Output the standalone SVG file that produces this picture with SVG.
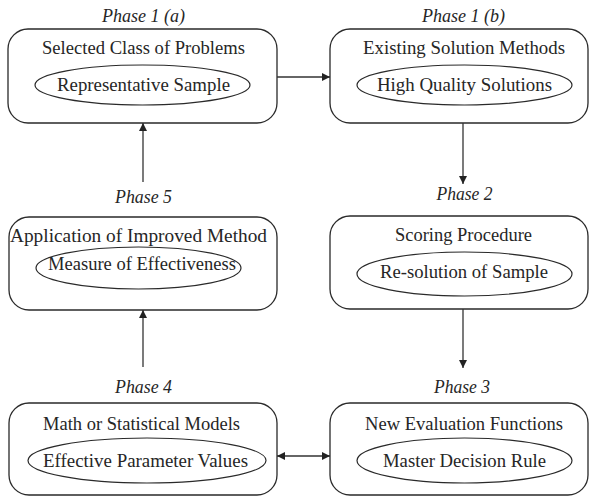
<svg xmlns="http://www.w3.org/2000/svg" width="590" height="496" viewBox="0 0 590 496">
  <style>
    .box { fill: #ffffff; stroke: #2a2a2a; stroke-width: 1.3; }
    .oval { fill: none; stroke: #2a2a2a; stroke-width: 1.2; }
    .t { font-family: 'Liberation Serif', Tinos, 'Times New Roman', 'DejaVu Serif', serif; font-size: 18px; fill: #262626; text-anchor: middle; }
    .ph { font-style: italic; }
    .link { stroke: #333333; stroke-width: 1.3; fill: none; }
  </style>
  <defs>
    <marker id="arrow" viewBox="0 0 10 10" refX="10" refY="5" markerWidth="8" markerHeight="8" markerUnits="userSpaceOnUse" orient="auto-start-reverse">
      <path d="M0,0 L10,5 L0,10 Z" fill="#222222"/>
    </marker>
  </defs>
  <rect width="590" height="496" fill="#ffffff"/>

  <g id="phase1a">
    <text class="t ph" x="143.5" y="22" textLength="83" lengthAdjust="spacingAndGlyphs">Phase 1 (a)</text>
    <rect class="box" x="8" y="29" width="269" height="94" rx="20" ry="20"/>
    <text class="t" x="143.5" y="54" textLength="203" lengthAdjust="spacingAndGlyphs">Selected Class of Problems</text>
    <ellipse class="oval" cx="142.5" cy="85" rx="107.5" ry="20"/>
    <text class="t" x="143.5" y="91" textLength="173" lengthAdjust="spacingAndGlyphs">Representative Sample</text>
  </g>

  <g id="phase1b">
    <text class="t ph" x="463.5" y="22" textLength="83" lengthAdjust="spacingAndGlyphs">Phase 1 (b)</text>
    <rect class="box" x="330" y="29" width="258" height="94" rx="20" ry="20"/>
    <text class="t" x="464" y="54" textLength="202" lengthAdjust="spacingAndGlyphs">Existing Solution Methods</text>
    <ellipse class="oval" cx="464.5" cy="85" rx="107.5" ry="20"/>
    <text class="t" x="464.5" y="91" textLength="175" lengthAdjust="spacingAndGlyphs">High Quality Solutions</text>
  </g>

  <g id="phase5">
    <text class="t ph" x="143.5" y="203" textLength="57" lengthAdjust="spacingAndGlyphs">Phase 5</text>
    <rect class="box" x="9" y="217" width="268" height="93" rx="20" ry="20"/>
    <text class="t" x="138.5" y="242" textLength="257" lengthAdjust="spacingAndGlyphs">Application of Improved Method</text>
    <ellipse class="oval" cx="138.5" cy="268" rx="102.5" ry="21"/>
    <text class="t" x="142" y="270" textLength="188" lengthAdjust="spacingAndGlyphs">Measure of Effectiveness</text>
  </g>

  <g id="phase2">
    <text class="t ph" x="464.5" y="200" textLength="56" lengthAdjust="spacingAndGlyphs">Phase 2</text>
    <rect class="box" x="330" y="216" width="258" height="93" rx="20" ry="20"/>
    <text class="t" x="463.5" y="241" textLength="137" lengthAdjust="spacingAndGlyphs">Scoring Procedure</text>
    <ellipse class="oval" cx="464.5" cy="274" rx="107.5" ry="22"/>
    <text class="t" x="464" y="278" textLength="168" lengthAdjust="spacingAndGlyphs">Re-solution of Sample</text>
  </g>

  <g id="phase4">
    <text class="t ph" x="143.5" y="393" textLength="57" lengthAdjust="spacingAndGlyphs">Phase 4</text>
    <rect class="box" x="9" y="403" width="268" height="92" rx="20" ry="20"/>
    <text class="t" x="141.5" y="430" textLength="197" lengthAdjust="spacingAndGlyphs">Math or Statistical Models</text>
    <ellipse class="oval" cx="147" cy="460.5" rx="119" ry="22.5"/>
    <text class="t" x="145.5" y="467" textLength="205" lengthAdjust="spacingAndGlyphs">Effective Parameter Values</text>
  </g>

  <g id="phase3">
    <text class="t ph" x="462" y="393" textLength="56" lengthAdjust="spacingAndGlyphs">Phase 3</text>
    <rect class="box" x="330" y="403" width="258" height="92" rx="20" ry="20"/>
    <text class="t" x="464" y="430" textLength="198" lengthAdjust="spacingAndGlyphs">New Evaluation Functions</text>
    <ellipse class="oval" cx="464.5" cy="460.5" rx="107.5" ry="22.5"/>
    <text class="t" x="464.5" y="467" textLength="163" lengthAdjust="spacingAndGlyphs">Master Decision Rule</text>
  </g>

  <g id="connectors">
    <line class="link" x1="277" y1="77" x2="330" y2="77" marker-end="url(#arrow)"/>
    <line class="link" x1="463" y1="123" x2="463" y2="184" marker-end="url(#arrow)"/>
    <line class="link" x1="463" y1="309" x2="463" y2="368" marker-end="url(#arrow)"/>
    <line class="link" x1="277" y1="456" x2="330" y2="456" marker-start="url(#arrow)" marker-end="url(#arrow)"/>
    <line class="link" x1="143" y1="367" x2="143" y2="310" marker-end="url(#arrow)"/>
    <line class="link" x1="143" y1="182" x2="143" y2="123" marker-end="url(#arrow)"/>
  </g>
</svg>
